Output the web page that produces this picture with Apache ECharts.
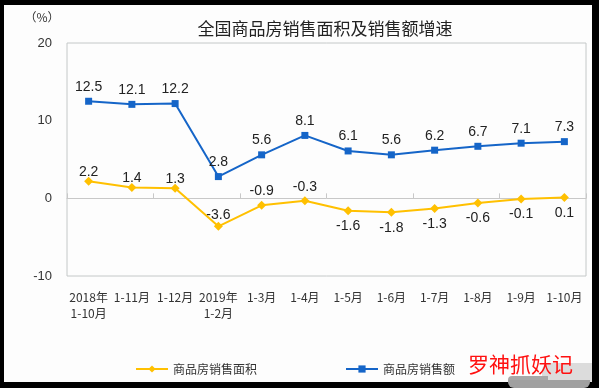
<!DOCTYPE html>
<html><head><meta charset="utf-8">
<script src="https://cdn.jsdelivr.net/npm/echarts@6/dist/echarts.min.js"></script>
<style>
html,body{margin:0;padding:0;background:#000;width:599px;height:388px;overflow:hidden;position:relative}
#c{position:absolute;left:4px;top:5px;width:588px;height:377px;background:#fdfdfd}
#sh{position:absolute;left:508px;top:380px;width:82px;height:8px;background:#a0a0a0;border-radius:0 0 6px 6px}
</style></head><body><div id="c"></div><div id="sh"></div>
<script>
const categories = ['2018年\n1-10月','1-11月','1-12月','2019年\n1-2月','1-3月','1-4月','1-5月','1-6月','1-7月','1-8月','1-9月','1-10月'];
const areaGrowth = [2.2, 1.4, 1.3, -3.6, -0.9, -0.3, -1.6, -1.8, -1.3, -0.6, -0.1, 0.1];
const salesGrowth = [12.5, 12.1, 12.2, 2.8, 5.6, 8.1, 6.1, 5.6, 6.2, 6.7, 7.1, 7.3];
const areaLabelPos = ['top','top','top','top','top','top','bottom','bottom','bottom','bottom','bottom','bottom'];
const areaLabelGap = [-2, -2, -2, 0, 3, 2, 4, 4, 4, 4, 4, 4];
const yTicks = [-10, 0, 10, 20];
const seriesNames = ['商品房销售面积', '商品房销售额'];
const titleText = '全国商品房销售面积及销售额增速';
const unitText = '（%）';
const watermark = '罗神抓妖记';

const chart = echarts.init(document.getElementById('c'), null, {renderer: 'canvas'});
const cjk = '"Noto Sans CJK SC", sans-serif';
const num = '"Liberation Sans", Arial, sans-serif';
const labelStyle = {show: true, fontSize: 14, color: '#222', fontFamily: num, distance: 4};

chart.setOption({
  animation: false,
  backgroundColor: '#fdfdfd',
  grid: {left: 63, top: 38, right: 6, bottom: 106, show: true, borderColor: '#c4c8c8', borderWidth: 1, backgroundColor: 'transparent'},
  xAxis: [{
    type: 'category', data: categories, position: 'bottom',
    axisLine: {show: false, onZero: false}, axisTick: {show: false},
    axisLabel: {fontSize: 12, color: '#333', fontFamily: cjk, margin: 13, lineHeight: 16, interval: 0}
  }, {
    type: 'category', data: categories, position: 'bottom',
    axisLine: {show: true, onZero: true, lineStyle: {color: '#c8c8c8', width: 1}},
    axisTick: {show: true, inside: true, length: 5, lineStyle: {color: '#c8c8c8'}},
    axisLabel: {show: false}
  }],
  yAxis: {
    type: 'value', min: yTicks[0], max: yTicks[yTicks.length - 1], interval: 10,
    axisLine: {show: false}, axisTick: {show: false}, splitLine: {show: false},
    axisLabel: {fontSize: 13, color: '#333', fontFamily: num, margin: 15}
  },
  legend: {
    left: 126, top: 353, itemWidth: 32, itemHeight: 9, itemGap: 88,
    textStyle: {fontSize: 12, color: '#333', fontFamily: cjk},
    data: seriesNames
  },
  graphic: [
    {type: 'text', style: {text: titleText, x: 321, y: 24, align: 'center', verticalAlign: 'middle', fontSize: 17, fill: '#222', fontFamily: cjk}},
    {type: 'text', style: {text: unitText, x: 38, y: 12, align: 'center', verticalAlign: 'middle', fontSize: 12, fill: '#333', fontFamily: cjk}},
    {type: 'rect', z: 1, shape: {x: 538, y: 358, width: 50, height: 19, r: [8, 0, 0, 0]}, style: {fill: '#dcdcdc'}},
    {type: 'rect', z: 1, shape: {x: 504, y: 371, width: 40, height: 6, r: [4, 0, 0, 0]}, style: {fill: '#a8a8a8'}},
    {type: 'text', z: 10, style: {text: watermark, x: 464, y: 359, align: 'left', verticalAlign: 'middle', fontSize: 21, fill: '#ff1010', fontFamily: cjk}}
  ],
  series: [{
    name: seriesNames[0], type: 'line', xAxisIndex: 0,
    data: areaGrowth.map((v, i) => ({value: v, label: {position: areaLabelPos[i], distance: areaLabelGap[i]}})),
    symbol: 'diamond', symbolSize: 9,
    lineStyle: {color: '#FFC000', width: 2}, itemStyle: {color: '#FFC000'},
    label: labelStyle
  }, {
    name: seriesNames[1], type: 'line', xAxisIndex: 0,
    data: salesGrowth,
    symbol: 'rect', symbolSize: 7,
    lineStyle: {color: '#1565C8', width: 2}, itemStyle: {color: '#1565C8'},
    label: Object.assign({}, labelStyle, {position: 'top'})
  }]
});
</script></body></html>
